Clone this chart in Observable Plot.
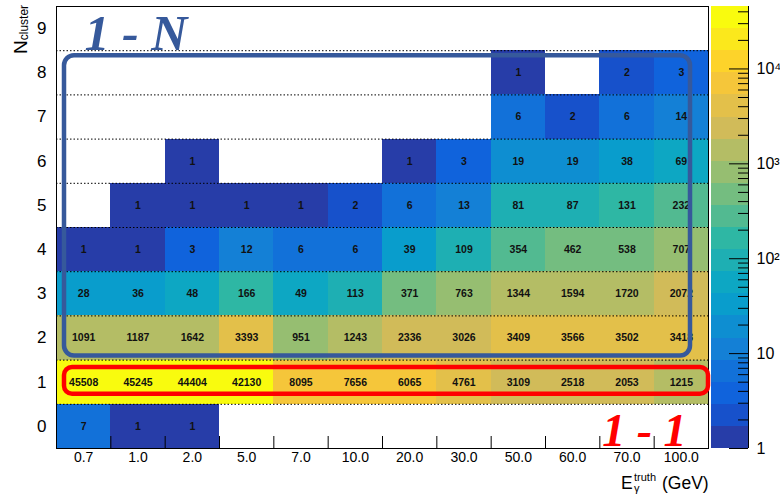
<!DOCTYPE html>
<html>
<head>
<meta charset="utf-8">
<script src="https://cdn.jsdelivr.net/npm/d3@7"></script>
<script src="https://cdn.jsdelivr.net/npm/@observablehq/plot@0.6"></script>
<style>
  body { margin: 0; background: #fff; }
  #chart { position: relative; width: 780px; height: 494px; font-family: "Liberation Sans", Arial, sans-serif; color: #000; }
  #chart > svg { position: absolute; top: 0; }
</style>
</head>
<body>
<div id="chart"></div>
<script>
// ---- data ----
const energies = ["0.7", "1.0", "2.0", "5.0", "7.0", "10.0", "20.0", "30.0", "50.0", "60.0", "70.0", "100.0"];
const nCluster = [0, 1, 2, 3, 4, 5, 6, 7, 8, 9];
// counts per N_cluster row (one entry per energy, null = empty bin)
const row0 = [7, 1, 1, null, null, null, null, null, null, null, null, null];
const row1 = [45508, 45245, 44404, 42130, 8095, 7656, 6065, 4761, 3109, 2518, 2053, 1215];
const row2 = [1091, 1187, 1642, 3393, 951, 1243, 2336, 3026, 3409, 3566, 3502, 3418];
const row3 = [28, 36, 48, 166, 49, 113, 371, 763, 1344, 1594, 1720, 2072];
const row4 = [1, 1, 3, 12, 6, 6, 39, 109, 354, 462, 538, 707];
const row5 = [null, 1, 1, 1, 1, 2, 6, 13, 81, 87, 131, 232];
const row6 = [null, null, 1, null, null, null, 1, 3, 19, 19, 38, 69];
const row7 = [null, null, null, null, null, null, null, null, 6, 2, 6, 14];
const row8 = [null, null, null, null, null, null, null, null, 1, null, 2, 3];
const row9 = [null, null, null, null, null, null, null, null, null, null, null, null];
const rows = [row0, row1, row2, row3, row4, row5, row6, row7, row8, row9];

const colorbarMajor = [1, 10, 100, 1000, 10000];
const colorbarMinor = [2,3,4,5,6,7,8,9, 20,30,40,50,60,70,80,90, 200,300,400,500,600,700,800,900, 2000,3000,4000,5000,6000,7000,8000,9000, 20000,30000,40000];

// annotation groups
const groupN = { label: "1 - N", from: "0.7", to: "100.0", rowLo: 2, rowHi: 8 };
const group1 = { label: "1 - 1", from: "0.7", to: "100.0", rowLo: 1, rowHi: 1 };

// ---- build table ----
const cells = rows.flatMap((vals, n) =>
  vals.map((v, i) => ({ e: energies[i], i, n, v })).filter(d => d.v != null));

// ROOT kBird palette, 20 contour levels on log z
const birdStops = [0.0, 0.125, 0.25, 0.375, 0.5, 0.625, 0.75, 0.875, 1.0];
const birdR = [0.2082, 0.0592, 0.0780, 0.0232, 0.1802, 0.5301, 0.8186, 0.9956, 0.9764];
const birdG = [0.1664, 0.3599, 0.5041, 0.6419, 0.7178, 0.7492, 0.7328, 0.7862, 0.9832];
const birdB = [0.5293, 0.8684, 0.8385, 0.7914, 0.6425, 0.4662, 0.3499, 0.1968, 0.0539];
function bird(t) {
  let k = 0;
  while (k < birdStops.length - 2 && t > birdStops[k + 1]) k++;
  const f = (t - birdStops[k]) / (birdStops[k + 1] - birdStops[k]);
  const c = a => Math.round(255 * (a[k] + f * (a[k + 1] - a[k])));
  return `rgb(${c(birdR)},${c(birdG)},${c(birdB)})`;
}
const nLevels = 20;
const zMin = 1, zMax = d3.max(cells, d => d.v);
const lMin = Math.log10(zMin), lMax = Math.log10(zMax), step = (lMax - lMin) / nLevels;
const thresholds = d3.range(1, nLevels).map(k => 10 ** (lMin + k * step));
const levelColors = d3.range(nLevels).map(i => bird(Math.floor((i + 0.99) * 255 / nLevels) / 254));
const colorOpts = { type: "threshold", domain: thresholds, range: levelColors };
const bands = d3.range(nLevels).map(i => ({ lo: 10 ** (lMin + i * step), hi: 10 ** (lMin + (i + 1) * step), mid: 10 ** (lMin + (i + 0.5) * step) }));

const colIndex = e => energies.indexOf(e);
const rowEdges = nCluster.slice(1).map(n => n - 0.5);
const colEdges = energies.slice(1).map((_, i) => i + 0.5);

const W = 780, H = 494, mT = 6, mB = 46, mL = 56, mR = 72;
const frameH = H - mT - mB;

const main = Plot.plot({
  width: W, height: H,
  marginLeft: mL, marginRight: mR, marginTop: mT, marginBottom: mB,
  style: { fontFamily: "Liberation Sans, Arial, sans-serif", color: "#000", background: "transparent" },
  x: { domain: [-0.5, energies.length - 0.5], label: null },
  y: { domain: [-0.5, nCluster.length - 0.5], label: null },
  color: colorOpts,
  marks: [
    Plot.rect(cells, { x1: d => d.i - 0.5, x2: d => d.i + 0.5, y1: d => d.n - 0.5, y2: d => d.n + 0.5, fill: "v", shapeRendering: "crispEdges" }),
    Plot.ruleY(rowEdges, { stroke: "#000", strokeWidth: 1, strokeDasharray: "1.5,2" }),
    Plot.text(cells, { x: "i", y: "n", text: d => String(d.v), fontWeight: "bold", fontSize: 10.5, fill: "#111" }),
    Plot.tickX(colEdges, { x: d => d, insetTop: frameH - 12, stroke: "#000" }),
    Plot.frame({ stroke: "#000" }),
    Plot.axisX(energies.map((_, i) => i), { tickSize: 0, tickPadding: 4, tickFormat: i => energies[i], fontSize: 14, label: null }),
    Plot.axisY(nCluster, { tickSize: 0, tickPadding: 10, fontSize: 17, label: null }),
    Plot.rect([groupN], { x1: d => colIndex(d.from) - 0.5, x2: d => colIndex(d.to) + 0.5, y1: d => d.rowLo - 0.5, y2: d => d.rowHi + 0.5,
      fill: "none", stroke: "#36599b", strokeWidth: 4.5, rx: 10, insetLeft: 8, insetRight: 18, insetTop: 5, insetBottom: 4 }),
    Plot.rect([group1], { x1: d => colIndex(d.from) - 0.5, x2: d => colIndex(d.to) + 0.5, y1: d => d.rowLo - 0.5, y2: d => d.rowHi + 0.5,
      fill: "none", stroke: "#ff0000", strokeWidth: 4.5, rx: 8, insetLeft: 8, insetRight: 0, insetTop: 7.5, insetBottom: 10 }),
    Plot.text([groupN.label], { frameAnchor: "top-left", textAnchor: "start", lineAnchor: "top", dx: 28, dy: 8,
      fontFamily: "Liberation Serif, serif", fontWeight: "bold", fontStyle: "italic", fontSize: 50, fill: "#36599b" }),
    Plot.text([group1.label], { frameAnchor: "bottom-right", textAnchor: "end", lineAnchor: "bottom", dx: -22, dy: -3,
      fontFamily: "Liberation Serif, serif", fontWeight: "bold", fontStyle: "italic", fontSize: 46, fill: "#ff0000" })
  ]
});

const supers = { 2: "²", 3: "³", 4: "⁴", 5: "⁵" };
const cbar = Plot.plot({
  width: 69, height: H,
  marginLeft: 0, marginRight: 32, marginTop: mT, marginBottom: mB,
  style: { fontFamily: "Liberation Sans, Arial, sans-serif", color: "#000", background: "transparent" },
  x: { domain: [0, 1], axis: null, label: null },
  y: { type: "log", domain: [zMin, zMax], axis: null, label: null },
  color: colorOpts,
  marks: [
    Plot.rect(bands, { y1: "lo", y2: "hi", fill: "mid", shapeRendering: "crispEdges" }),
    Plot.tickY(colorbarMinor, { y: d => d, insetLeft: 27, stroke: "#000" }),
    Plot.tickY(colorbarMajor, { y: d => d, insetLeft: 18, stroke: "#000" }),
    Plot.ruleX([1], { stroke: "#000" }),
    Plot.axisY(colorbarMajor, { anchor: "right", tickSize: 0, tickPadding: 8, fontSize: 16, label: null,
      tickFormat: d => d < 100 ? String(d) : "10" + supers[Math.round(Math.log10(d))] })
  ]
});

const chart = document.getElementById("chart");
main.style.left = "0px";
cbar.style.left = "711px";
chart.appendChild(main);
chart.appendChild(cbar);

// axis titles
const ns = "http://www.w3.org/2000/svg";
const over = document.createElementNS(ns, "svg");
over.setAttribute("width", W); over.setAttribute("height", H);
over.style.position = "absolute"; over.style.left = "0px"; over.style.top = "0px";
over.style.fontFamily = "Liberation Sans, Arial, sans-serif";
over.innerHTML = `
  <text transform="translate(26.5,54) rotate(-90)" font-size="19" fill="#000">N<tspan font-size="12" dy="1">cluster</tspan></text>
  <text x="621" y="488.5" font-size="17.5" fill="#000">E</text>
  <text x="634" y="481" font-size="11" fill="#000">truth</text>
  <text x="634" y="492" font-size="11" fill="#000">γ</text>
  <text x="662" y="488.5" font-size="17.5" fill="#000">(GeV)</text>`;
chart.appendChild(over);
</script>
</body>
</html>
